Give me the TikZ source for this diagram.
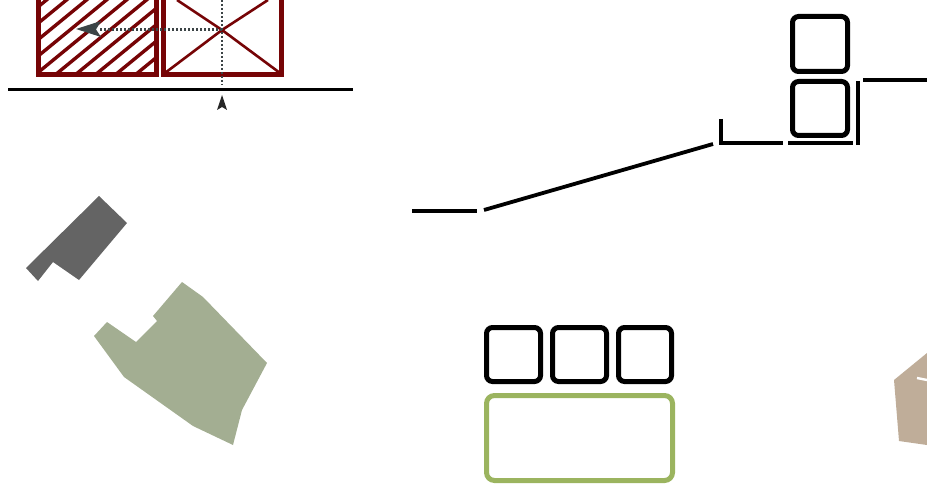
\documentclass[tikz,border=0pt]{standalone}
\definecolor{brickred}{HTML}{760406}
\definecolor{slategrey}{HTML}{646464}
\definecolor{sage}{HTML}{A3AE92}
\definecolor{tan2}{HTML}{BFAD99}
\definecolor{leaf}{HTML}{9BB45F}
\definecolor{arrowgrey}{HTML}{3C4446}
\tikzset{
  wall/.style={draw=brickred,line width=5pt,miter limit=10},
  thinred/.style={draw=brickred,line width=2.6pt},
  dots/.style={draw=arrowgrey,line width=2.6pt,dash pattern=on 2.4pt off 1.6pt},
  bar/.style={draw=black,line width=3.8pt},
  room/.style={draw=black,line width=5pt,rounded corners=6pt},
  garden/.style={draw=leaf,line width=5pt,rounded corners=8pt}
}
\begin{document}
\begin{tikzpicture}[x=1pt,y=-1pt]
\useasboundingbox (0,0) rectangle (927,484);
\clip (0,0) rectangle (927,484);
\begin{scope}
\clip (38,-20) rectangle (157,75);
\foreach \k in {-6,...,10}
  \draw[thinred,line width=3.4pt] ({35+20*\k},75) -- ++(120,-98.4);
\end{scope}
\draw[wall] (38.5,-20) -- (38.5,74.5) -- (156.5,74.5) -- (156.5,-20);
\draw[wall] (163.5,-20) -- (163.5,74.5) -- (281.5,74.5) -- (281.5,-20);
\draw[thinred] (165,73) -- (222,30) -- (268,0);
\draw[thinred] (280,73) -- (222,30) -- (177,0);
\draw[dots] (222,0) -- (222,85);
\draw[dots] (222,29.5) -- (100,29.5);
\fill[arrowgrey] (76,29) -- (101,21) -- (96,29.5) -- (101,37) -- cycle;
\draw[draw=black,line width=2.6pt] (8,89.5) -- (353,89.5);
\fill[black!85] (222,95) -- (227,110) -- (222,107) -- (217,110) -- cycle;
\draw[room] (792.5,16.5) rectangle (847.5,71.5);
\draw[room] (792.5,81.5) rectangle (847.5,135.5);
\draw[bar,line cap=butt,line join=miter] (721,119) -- (721,143) -- (783,143);
\draw[bar] (788,143) -- (853,143);
\draw[bar] (858,81) -- (858,145);
\draw[bar] (863,80) -- (927,80);
\draw[bar] (484,210) -- (713,144);
\draw[bar] (412,211) -- (477,211);
\draw[room] (486.5,327.5) rectangle (540.5,381.5);
\draw[room] (552.5,327.5) rectangle (606.5,381.5);
\draw[room] (618.5,327.5) rectangle (671.5,381.5);
\draw[garden] (486.5,395.5) rectangle (672.5,480.5);
\fill[slategrey] (99,196) -- (127,223) -- (79,280) -- (53,262) -- (38,281) -- (26,268) -- cycle;
\fill[sage] (182,282) -- (203,297) -- (267,363) -- (242,410) -- (233,445) -- (193,426) -- (124,377) -- (94,336) -- (107,322) -- (136,342) -- (157,321) -- (153,316) -- cycle;
\fill[tan2] (894,380) -- (927,353) -- (927,445) -- (899,441) -- cycle;
\draw[white,line width=2.4pt] (917,378) -- (927,380);
\end{tikzpicture}
\end{document}
